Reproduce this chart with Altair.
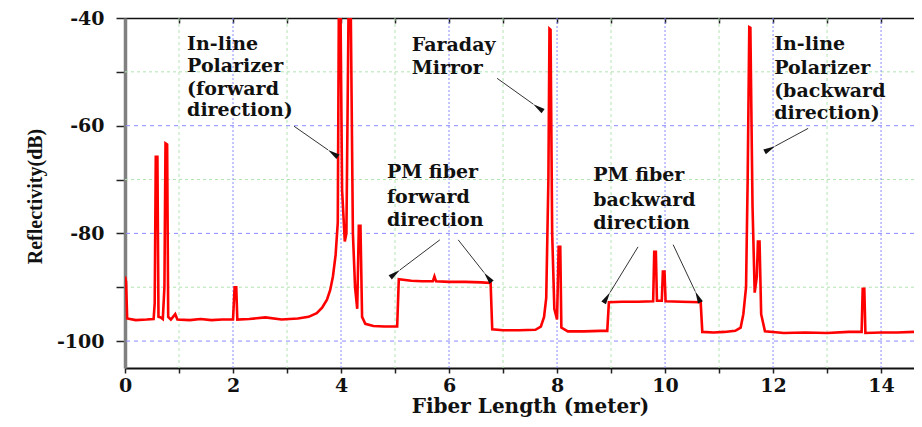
import math
import altair as alt
import pandas as pd

# ---- trace (Fiber length in m, reflectivity in dB) ----
trace_x = [0.00, 0.02, 0.04, 0.2, 0.4, 0.53, 0.55, 0.57, 0.60, 0.62, 0.66, 0.70, 0.73, 0.75, 0.78, 0.80,
           0.85, 0.93, 0.97, 1.2, 1.4, 1.6, 1.8, 2.0, 2.03, 2.06, 2.08, 2.3, 2.6, 2.9, 3.2, 3.4, 3.55,
           3.65, 3.74, 3.80, 3.85, 3.90, 3.94, 3.96, 3.99, 4.02, 4.07, 4.10, 4.14, 4.18, 4.22, 4.26,
           4.30, 4.33, 4.36, 4.39, 4.45, 4.6, 4.8, 5.0, 5.04, 5.07, 5.3, 5.5, 5.7, 5.73, 5.76, 6.0,
           6.3, 6.6, 6.77, 6.80, 7.0, 7.3, 7.6, 7.70, 7.76, 7.80, 7.84, 7.86, 7.88, 7.91, 7.95, 8.00,
           8.03, 8.06, 8.08, 8.2, 8.5, 8.8, 8.93, 8.96, 9.2, 9.5, 9.78, 9.80, 9.83, 9.85, 9.94, 9.96,
           9.99, 10.01, 10.3, 10.66, 10.69, 10.9, 11.1, 11.3, 11.40, 11.45, 11.50, 11.53, 11.56, 11.58,
           11.62, 11.66, 11.70, 11.72, 11.75, 11.78, 11.85, 12.2, 12.6, 13.0, 13.4, 13.64, 13.66,
           13.69, 13.71, 14.0, 14.3, 14.61]
trace_y = [-88.0, -89.0, -95.8, -96.1, -96.0, -95.9, -93.0, -65.8, -65.8, -95.5, -95.6, -95.9, -90.0,
           -63.3, -63.5, -95.5, -96.0, -95.0, -96.0, -96.1, -95.9, -96.1, -96.0, -96.0, -90.0, -90.0,
           -96.0, -95.9, -95.6, -96.0, -95.8, -95.5, -94.8, -93.8, -92.3, -90.5, -88.0, -84.0, -78.0,
           -38.0, -38.0, -72.0, -81.5, -80.0, -38.0, -38.0, -80.0, -90.0, -94.0, -78.6, -78.6, -95.5,
           -96.8, -97.2, -97.3, -97.3, -97.3, -88.5, -88.8, -88.9, -88.9, -88.0, -88.9, -89.0, -89.0,
           -89.1, -89.2, -97.8, -98.0, -98.0, -97.9, -97.3, -95.5, -92.0, -70.0, -42.0, -42.2, -80.0,
           -94.0, -96.0, -82.5, -82.5, -97.5, -98.2, -98.2, -98.1, -98.1, -92.8, -92.7, -92.7, -92.6,
           -83.4, -83.4, -92.5, -92.5, -87.1, -87.1, -92.6, -92.7, -92.8, -98.3, -98.4, -98.3, -98.1,
           -97.5, -95.0, -90.0, -70.0, -41.7, -41.8, -75.0, -91.0, -88.0, -81.5, -81.5, -95.0, -98.2,
           -98.5, -98.4, -98.5, -98.3, -98.3, -90.3, -90.3, -98.5, -98.4, -98.4, -98.3]

# ---- annotation text (one row per line) ----
note_lines = ["In-line", "Polarizer", "(forward", "direction)",
              "Faraday", "Mirror",
              "PM fiber", "forward", "direction",
              "PM fiber", "backward", "direction",
              "In-line", "Polarizer", "(backward", "direction)"]
note_x = [1.15, 1.15, 1.15, 1.15,
          5.31, 5.31,
          4.85, 4.85, 4.85,
          8.67, 8.67, 8.67,
          12.02, 12.02, 12.02, 12.02]
note_y = [-44.9, -49.0, -53.1, -57.1,
          -45.1, -49.2,
          -68.6, -73.2, -77.5,
          -69.2, -73.8, -78.1,
          -44.9, -49.2, -53.5, -57.6]

# ---- arrows (start -> tip) ----
arrow_x1 = [3.13, 6.89, 12.65, 5.83, 6.17, 9.50, 10.15]
arrow_y1 = [-60.1, -51.2, -60.5, -81.2, -81.2, -82.5, -82.1]
arrow_x2 = [3.76, 7.56, 12.04, 5.09, 6.65, 8.98, 10.56]
arrow_y2 = [-64.5, -56.0, -63.8, -86.8, -87.3, -91.0, -90.8]

x_ticks = list(range(0, 15))
x_major = [2, 4, 6, 8, 10, 12, 14]
x_minor = [1, 3, 5, 7, 9, 11, 13]
y_ticks = [-100, -90, -80, -70, -60, -50, -40]
y_major = [-100, -80, -60]
y_minor = [-90, -70, -50]

X_DOM = [0, 14.61]
Y_DOM = [-105, -40]
W, H = 789, 350

xs = alt.Scale(domain=X_DOM, nice=False, zero=False)
ys = alt.Scale(domain=Y_DOM, nice=False, zero=False)

trace = pd.DataFrame({"x": trace_x, "y": trace_y})
notes = pd.DataFrame({"x": note_x, "y": note_y, "t": note_lines})

px_per_x = W / (X_DOM[1] - X_DOM[0])
px_per_y = H / (Y_DOM[1] - Y_DOM[0])
angles = []
for a, b, c, d in zip(arrow_x1, arrow_y1, arrow_x2, arrow_y2):
    dx = (c - a) * px_per_x
    dy_up = (d - b) * px_per_y
    ang = math.degrees(math.atan2(dx, dy_up))
    angles.append((ang + 180) % 360)
arrows = pd.DataFrame({"x": arrow_x1, "y": arrow_y1, "x2": arrow_x2, "y2": arrow_y2, "ang": angles})

BLUE = "#8a8aff"
GREEN = "#b2e4b2"

gx_major = alt.Chart(pd.DataFrame({"x": x_major})).mark_rule(
    color=BLUE, strokeWidth=1, strokeDash=[2, 2]).encode(x=alt.X("x:Q", scale=xs, axis=None))
gx_minor = alt.Chart(pd.DataFrame({"x": x_minor})).mark_rule(
    color=GREEN, strokeWidth=1, strokeDash=[3, 3]).encode(x=alt.X("x:Q", scale=xs, axis=None))
gy_major = alt.Chart(pd.DataFrame({"y": y_major})).mark_rule(
    color=BLUE, strokeWidth=1, strokeDash=[4, 4]).encode(y=alt.Y("y:Q", scale=ys, axis=None))
gy_minor = alt.Chart(pd.DataFrame({"y": y_minor})).mark_rule(
    color=GREEN, strokeWidth=1, strokeDash=[3, 3]).encode(y=alt.Y("y:Q", scale=ys, axis=None))

line = alt.Chart(trace).mark_line(color="#ff0000", strokeWidth=2.6, clip=True).encode(
    x=alt.X("x:Q", scale=xs, axis=alt.Axis(
        values=x_ticks, title="Fiber Length (meter)", grid=False,
        labelExpr="datum.value % 2 == 0 ? '' + datum.value : ''",
        labelFont="DejaVu Serif", labelFontWeight="bold", labelFontSize=19, labelColor="#111",
        labelPadding=3, labelFlush=False,
        tickSize=5, tickColor="#222", tickWidth=1.5,
        domainColor="#111", domainWidth=2,
        titleFont="DejaVu Serif", titleFontWeight="bold", titleFontSize=20, titleColor="#111",
        titleX=405, titleY=44, titleAlign="center", titleBaseline="alphabetic",
    )),
    y=alt.Y("y:Q", scale=ys, axis=alt.Axis(
        orient="left", values=y_ticks, title="Reflectivity(dB)", grid=False,
        labelExpr="datum.value % 20 == 0 ? '' + datum.value : ''",
        labelFont="DejaVu Serif", labelFontWeight="bold", labelFontSize=19, labelColor="#111",
        labelPadding=12, labelFlush=False,
        tickSize=9, tickColor="#222", tickWidth=1.5,
        domainColor="#808080", domainWidth=3.5,
        titleFont="Liberation Serif", titleFontWeight="bold", titleFontSize=20, titleColor="#111",
        titleX=-90, titleY=178, titleAlign="center", titleBaseline="middle", titleAngle=270,
    )),
)

text = alt.Chart(notes).mark_text(
    align="left", baseline="middle", font="DejaVu Serif", fontWeight="bold",
    fontSize=19, color="#111"
).encode(
    x=alt.X("x:Q", scale=xs, axis=None),
    y=alt.Y("y:Q", scale=ys, axis=None),
    text="t:N",
)

shafts = alt.Chart(arrows).mark_rule(color="#333", strokeWidth=1).encode(
    x=alt.X("x:Q", scale=xs, axis=None),
    y=alt.Y("y:Q", scale=ys, axis=None),
    x2="x2:Q", y2="y2:Q",
)

heads = alt.Chart(arrows).mark_point(
    shape="M0,0L0.4,1.8L-0.4,1.8Z", filled=True, color="#111", size=180, opacity=1
).encode(
    x=alt.X("x2:Q", scale=xs, axis=None),
    y=alt.Y("y2:Q", scale=ys, axis=None),
    angle=alt.Angle("ang:Q", scale=None),
)

top = alt.Chart(pd.DataFrame({"x": x_ticks})).mark_rule(opacity=0).encode(
    x=alt.X("x:Q", scale=xs, axis=alt.Axis(
        orient="top", values=x_ticks, labels=False, title=None, grid=False,
        tickSize={"expr": "-5"}, tickColor="#222", tickWidth=1.5,
        domainColor="#111", domainWidth=1.5,
    )),
)

chart = alt.layer(
    gx_minor, gy_minor, gx_major, gy_major, line, shafts, heads, text, top
).resolve_scale(x="independent", y="independent").properties(
    width=W, height=H,
    autosize=alt.AutoSizeParams(type="none"),
    padding={"left": 117, "top": 10, "right": 0, "bottom": 51},
).configure_view(stroke=None).configure(background="white")

chart.save("out.html", embed_options={"renderer": "svg", "actions": False})
